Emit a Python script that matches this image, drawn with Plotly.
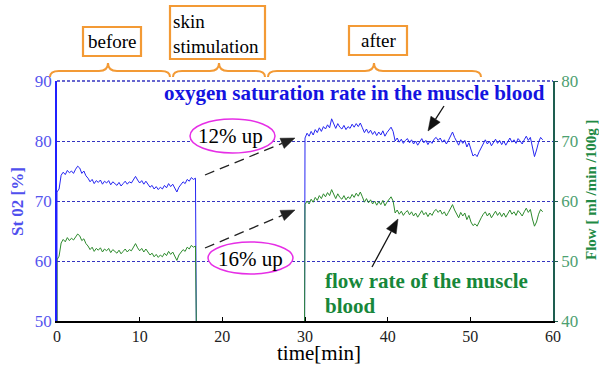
import numpy as np
import plotly.graph_objects as go

# ---------------- data ----------------
x_ticks = [0, 10, 20, 30, 40, 50, 60]
left_ticks = [50, 60, 70, 80, 90]
right_ticks = [40, 50, 60, 70, 80]

t_before_start, t_before_end = 0.0, 16.75
t_after_start, t_after_end = 30.0, 58.75
t_stop = 16.85      # signal drop after "before"
t_restart = 29.95   # signal restart for "after"

sto2_before = [71.5, 72.0, 74.3, 74.8, 74.4, 75.1, 74.7, 75.0, 74.6, 75.3, 75.8, 75.5, 74.6, 75.0,
               74.2, 73.8, 73.2, 73.6, 72.9, 73.4, 73.1, 73.5, 72.8, 73.3, 73.0, 73.4, 72.7, 73.2,
               72.9, 72.6, 73.1, 72.5, 72.9, 73.3, 72.8, 73.2, 73.0, 73.6, 74.1, 73.5, 73.0, 73.4,
               72.8, 73.3, 72.7, 72.3, 72.6, 72.0, 72.4, 71.9, 72.3, 72.0, 72.6, 72.2, 72.9, 72.4,
               72.8, 72.1, 71.5, 72.3, 72.8, 73.2, 72.9, 73.6, 73.3, 73.9, 73.6, 73.8]
flow_before = [50.2, 50.8, 53.0, 53.6, 53.2, 53.9, 53.4, 53.8, 53.5, 54.0, 54.5, 54.2, 53.4, 53.7,
               52.9, 52.5, 51.9, 52.3, 51.6, 52.1, 51.8, 52.2, 51.5, 52.0, 51.7, 52.1, 51.4, 51.9,
               51.6, 51.3, 51.8, 51.2, 51.6, 52.0, 51.5, 51.9, 51.7, 52.3, 52.9, 52.2, 51.7, 52.1,
               51.5, 52.0, 51.4, 51.0, 51.3, 50.7, 51.1, 50.6, 51.0, 50.7, 51.3, 50.9, 51.6, 51.1,
               51.5, 50.8, 50.1, 51.0, 51.5, 51.9, 51.6, 52.3, 52.0, 52.6, 52.3, 52.5]
sto2_after = [80.5, 81.3, 80.8, 81.6, 81.0, 81.9, 81.4, 82.2, 81.6, 82.4, 82.0, 82.7, 82.2,
              83.7, 82.8, 82.1, 82.9, 82.3, 82.0, 82.6, 81.9, 82.4, 82.1, 82.8, 82.3, 82.9, 82.4, 83.0, 82.2,
              81.4, 82.0, 81.3, 81.8, 81.1, 81.6, 80.9, 81.5, 81.0, 81.7, 80.8, 81.4, 81.9, 82.3, 81.6,
              80.0, 80.5, 79.8, 80.3, 79.6, 80.1, 80.4, 79.7, 80.2, 79.5, 80.0, 79.3, 79.9, 80.4,
              79.7, 80.1, 79.4, 80.0, 79.6, 80.3, 80.6, 80.1, 80.5, 79.8, 80.2, 79.5, 80.1, 80.7,
              81.5, 80.6, 80.0, 79.3, 80.2, 79.6, 80.1, 79.0, 79.7,
              78.6, 77.5, 77.8, 77.4, 78.2, 78.9,
              79.7, 80.2, 79.5, 80.0, 79.2, 79.8, 80.3, 79.6, 80.1, 79.4, 80.0, 79.3, 79.9, 80.5,
              79.8, 80.2, 79.6, 80.4, 80.0, 79.5, 80.2, 80.8, 80.1, 80.6,
              79.0, 77.4, 78.5, 79.8, 80.6, 80.2]
flow_after = [59.4, 60.0, 59.5, 60.3, 59.8, 60.6, 60.1, 60.9, 60.4, 61.2, 60.7, 61.4, 60.9,
              61.9, 61.1, 60.4, 61.2, 60.6, 60.3, 60.9, 60.2, 60.7, 60.4, 61.1, 60.6, 61.3, 60.8, 61.5, 60.7,
              59.8, 60.4, 59.7, 60.2, 59.5, 60.0, 59.3, 59.9, 59.4, 60.1, 59.2, 59.8, 60.3, 60.7, 60.0,
              58.0, 58.5, 57.8, 58.3, 57.6, 58.1, 58.4, 57.7, 58.2, 57.5, 58.0, 57.3, 57.9, 58.4,
              57.7, 58.1, 57.4, 58.0, 57.6, 58.3, 58.6, 58.1, 58.5, 57.8, 58.2, 57.5, 58.1, 58.7,
              59.4, 58.5, 57.9, 57.2, 58.1, 57.5, 58.0, 56.9, 57.6,
              56.5, 55.9, 56.2, 55.8, 56.6, 57.2,
              57.8, 58.2, 57.5, 58.0, 57.2, 57.8, 58.3, 57.6, 58.1, 57.4, 58.0, 57.3, 57.9, 58.5,
              57.8, 58.2, 57.6, 58.4, 58.0, 57.5, 58.2, 58.8, 58.1, 58.6,
              57.0, 55.8, 56.5, 57.8, 58.6, 58.2]

# ---------------- build series ----------------
tb = list(np.linspace(t_before_start, t_before_end, len(sto2_before)))
ta = list(np.linspace(t_after_start, t_after_end, len(sto2_after)))
tbf = list(np.linspace(t_before_start, t_before_end, len(flow_before)))
taf = list(np.linspace(t_after_start, t_after_end, len(flow_after)))

x_blue = [0.0] + tb + [t_stop, None, t_restart] + ta
y_blue = [left_ticks[0]] + sto2_before + [left_ticks[0], None, left_ticks[0]] + sto2_after
x_green = [0.0] + tbf + [t_stop, None, t_restart] + taf
y_green = [right_ticks[0]] + flow_before + [right_ticks[0], None, right_ticks[0]] + flow_after

# ---------------- geometry helpers (layout positioning) ----------------
W_FIG, H_FIG = 599, 365
L, R, T, B = 57, 553, 81, 321
PW, PH = R - L, B - T


def px(x):
    return (x - L) / PW


def py(y):
    return (B - y) / PH


def pt(x, y):
    return f"{px(x):.5f},{py(y):.5f}"


ORANGE = "#F39A35"
NAVY = "#3434C0"
BLUE_LINE = "#2626F2"
GREEN_LINE = "#2E8B2E"
SERIF = "Liberation Serif"

fig = go.Figure()
fig.add_trace(go.Scatter(x=x_blue, y=y_blue, mode="lines",
                         line=dict(color=BLUE_LINE, width=1), yaxis="y", showlegend=False,
                         connectgaps=False))
fig.add_trace(go.Scatter(x=x_green, y=y_green, mode="lines",
                         line=dict(color=GREEN_LINE, width=1), yaxis="y2", showlegend=False,
                         connectgaps=False))

shapes = []
annotations = []

# top dashed border
shapes.append(dict(type="line", xref="paper", yref="paper", x0=0, x1=1, y0=1, y1=1,
                   line=dict(color=NAVY, width=1.3, dash="3px,2px")))


def brace(x0, x1, xm, yb=77, ym=71, yt=63, q=9):
    path = (f"M {pt(x0, yb)} Q {pt(x0, ym)} {pt(x0 + q, ym)} L {pt(xm - q, ym)} "
            f"Q {pt(xm, ym)} {pt(xm, yt)} Q {pt(xm, ym)} {pt(xm + q, ym)} "
            f"L {pt(x1 - q, ym)} Q {pt(x1, ym)} {pt(x1, yb)}")
    shapes.append(dict(type="path", xref="paper", yref="paper", path=path,
                       line=dict(color=ORANGE, width=2)))


brace(50, 170, 108)
brace(173, 265, 219)
brace(268, 481, 374)


def box(x0, y0, x1, y1):
    shapes.append(dict(type="rect", xref="paper", yref="paper",
                       x0=px(x0), x1=px(x1), y0=py(y1), y1=py(y0),
                       line=dict(color=ORANGE, width=2.2), fillcolor="white"))


box(83, 27, 141, 56)
box(170, 6, 265, 59)
box(349, 26, 407, 55)


def text(x, y, s, size, color="black", bold=False, xanchor="center", angle=0):
    annotations.append(dict(xref="paper", yref="paper", x=px(x), y=py(y), text=(f"<b>{s}</b>" if bold else s),
                            showarrow=False, xanchor=xanchor, yanchor="middle", textangle=angle,
                            font=dict(family=SERIF, size=size, color=color)))


text(112, 42, "before", 19)
text(171, 21, "skin", 19, xanchor="left")
text(171, 46, "stimulation", 19, xanchor="left")
text(378, 41, "after", 19)


def arrow(p0, p1, color="black", dash="solid", width=1.3, head_len=14, head_w=5.5):
    x0, y0 = p0
    x1, y1 = p1
    dx, dy = x1 - x0, y1 - y0
    n = (dx * dx + dy * dy) ** 0.5
    ux, uy = dx / n, dy / n
    bx, by = x1 - head_len * ux, y1 - head_len * uy
    nx, ny = -uy, ux
    shapes.append(dict(type="line", xref="paper", yref="paper", x0=px(x0), y0=py(y0), x1=px(bx), y1=py(by),
                       line=dict(color=color, width=width, dash=dash)))
    path = (f"M {pt(x1, y1)} L {pt(bx + head_w * nx, by + head_w * ny)} "
            f"L {pt(bx - head_w * nx, by - head_w * ny)} Z")
    shapes.append(dict(type="path", xref="paper", yref="paper", path=path,
                       line=dict(color=color, width=0.5), fillcolor=color))


arrow((205, 175), (295, 138), color="#222222", dash="10px,6px")
arrow((205, 248), (295, 210), color="#222222", dash="10px,6px")
arrow((444, 106), (428, 131), color="#111111")
arrow((372, 267), (398, 219), color="#111111")

# ellipses (white-filled, hide gridline behind the text)
shapes.append(dict(type="circle", xref="paper", yref="paper", x0=px(190), x1=px(275), y0=py(153), y1=py(119),
                   line=dict(color="#E62EE6", width=1.5), fillcolor="white"))
shapes.append(dict(type="circle", xref="paper", yref="paper", x0=px(208), x1=px(293), y0=py(274), y1=py(242),
                   line=dict(color="#E62EE6", width=1.5), fillcolor="white"))
text(230, 136, "12% up", 21)
text(250, 259, "16% up", 21)

# in-plot labels
text(354, 93, "oxygen saturation rate in the muscle blood", 21, color="#1414E0", bold=True)
text(323, 281, "flow rate of the muscle", 21, color="#17873A", bold=True, xanchor="left")
text(323, 306, "blood", 21, color="#17873A", bold=True, xanchor="left")

# axis titles
text(319, 353, "time[min]", 21)
text(17, 202, "St 02 [%]", 17, color="#5050EE", bold=True, angle=-90)
text(591, 190, "Flow [ ml /min /100g ]", 15, color="#1F8A45", bold=True, angle=-90)

fig.update_layout(
    width=W_FIG, height=H_FIG,
    margin=dict(l=L, r=W_FIG - R, t=T, b=H_FIG - B, autoexpand=False),
    paper_bgcolor="white", plot_bgcolor="white",
    showlegend=False,
    xaxis=dict(range=[x_ticks[0], x_ticks[-1]], tickvals=x_ticks, ticks="inside", ticklen=4,
               tickcolor="black", showgrid=False, zeroline=False, showline=True, linecolor="black",
               linewidth=1.5, tickfont=dict(family=SERIF, size=16, color="#222222")),
    yaxis=dict(range=[left_ticks[0], left_ticks[-1]], tickvals=left_ticks, ticks="", showgrid=True,
               gridcolor=NAVY, griddash="3px,2px", gridwidth=1.3, zeroline=False, showline=True,
               linecolor="#2020FF", linewidth=1.5,
               tickfont=dict(family=SERIF, size=17, color="#5555EE")),
    yaxis2=dict(range=[right_ticks[0], right_ticks[-1]], tickvals=right_ticks, overlaying="y", side="right",
                ticks="outside", ticklen=3, tickcolor="#1E5E50", showgrid=False, zeroline=False,
                showline=True, linecolor="#1E5E50", linewidth=1.5,
                tickfont=dict(family=SERIF, size=17, color="#4DA070")),
    shapes=shapes,
    annotations=annotations,
)

fig.write_html("out.html", config={"displayModeBar": False},
               post_script="document.body.style.margin='0';")
